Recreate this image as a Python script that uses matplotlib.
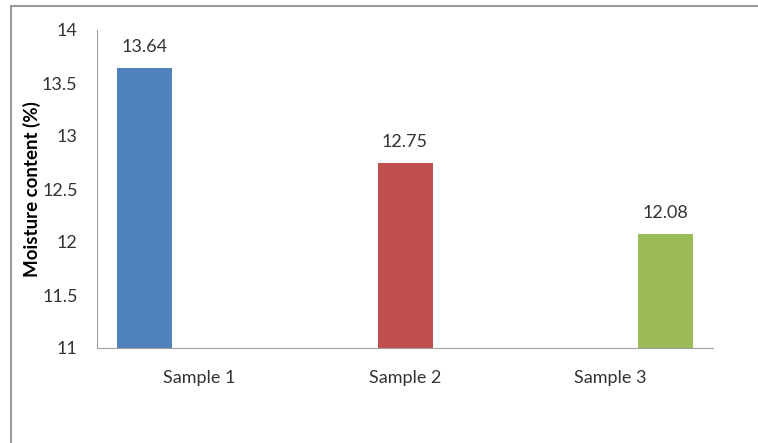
import matplotlib.pyplot as plt
from matplotlib.patches import Rectangle

samples = ["Sample 1", "Sample 2", "Sample 3"]
moisture = [13.64, 12.75, 12.08]
colors = ["#4F81BD", "#C0504D", "#9BBB59"]

plt.rcParams["font.family"] = ["Lato", "DejaVu Sans"]

fig = plt.figure(figsize=(7.58, 4.43), dpi=100)
ax = fig.add_axes([97 / 758, 1 - 348 / 443, 616 / 758, 318 / 443])

# outer chart frame
fig.patches.append(Rectangle((11 / 758, -0.1), 1.2, 1 - 6 / 443 + 0.1,
                             transform=fig.transFigure, fill=False,
                             edgecolor="#9a9a9a", linewidth=1.5))

# clustered layout: one series per sample, so each bar sits offset in its slot
bar_w = 55 / (616 / 3)
for i, (name, val) in enumerate(zip(samples, moisture)):
    x = i + (i - 1) * bar_w
    ax.bar(x, val - 11, bottom=11, width=bar_w, color=colors[i])
    ax.text(x, val + 0.12, f"{val:.2f}", ha="center", va="bottom",
            fontsize=13, color="#333333")

ax.set_xlim(-0.5, 2.5)
ax.set_ylim(11, 14)
ax.set_yticks([11, 11.5, 12, 12.5, 13, 13.5, 14])
ax.set_yticklabels(["11", "11.5", "12", "12.5", "13", "13.5", "14"])
ax.set_xticks(range(len(samples)))
ax.set_xticklabels(samples)
ax.tick_params(axis="both", length=0, labelsize=13, labelcolor="#333333")
ax.tick_params(axis="y", pad=14)
ax.tick_params(axis="x", pad=16)

for side in ["top", "right"]:
    ax.spines[side].set_visible(False)
for side in ["left", "bottom"]:
    ax.spines[side].set_color("#a0a0a0")

ax.set_ylabel("Moisture content (%)", fontsize=13.5, fontweight="bold")
ax.yaxis.set_label_coords((41 - 97) / 616, 0.5)

fig.savefig("out.png", dpi=100)
